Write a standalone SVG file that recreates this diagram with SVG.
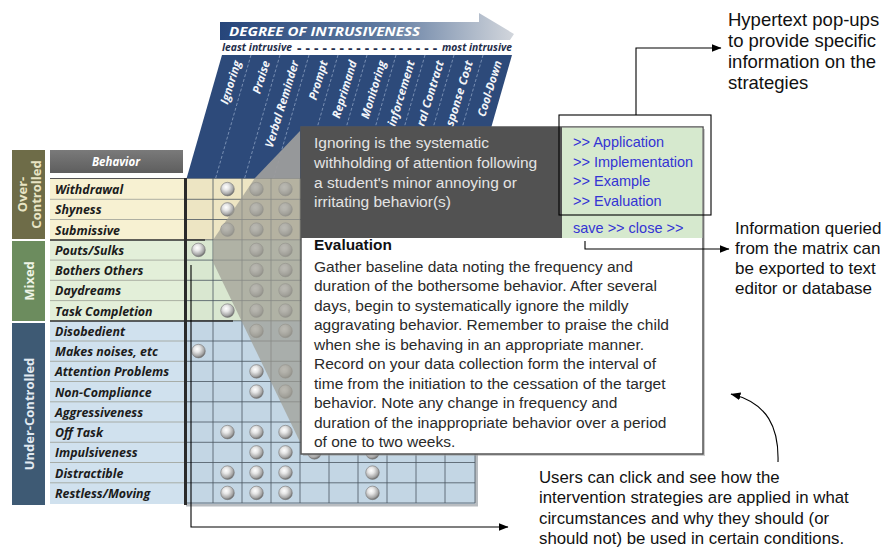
<svg xmlns="http://www.w3.org/2000/svg" xmlns:xlink="http://www.w3.org/1999/xlink" width="884" height="548" viewBox="0 0 884 548">
<defs>
<style>
.mx{font-family:"Open Sans","DejaVu Sans",sans-serif;font-weight:bold;font-style:italic}
.col{font-size:11.5px;fill:#f2f4f8}
.beh{font-size:12.4px;fill:#1c1c1c}
.grp{font-family:"Open Sans","DejaVu Sans",sans-serif;font-weight:bold;font-size:13px}
.ar{font-family:"Liberation Sans",Arial,sans-serif}
.pd{font-size:15.5px;fill:#e4e4e4}
.lk{font-size:14.5px;fill:#3434d4}
.bd{font-size:15.5px;fill:#2a2a2a}
.an{fill:#111}
.gl{stroke:#4a5560;stroke-width:0.8;fill:none}
.ll{stroke:#9c9f96;stroke-width:0.8;fill:none}
.cn{stroke:#000;stroke-width:1.1;fill:none}
</style>
<linearGradient id="ban" x1="0" y1="0" x2="1" y2="0">
<stop offset="0" stop-color="#26457a"/>
<stop offset="0.55" stop-color="#5f7aa0"/>
<stop offset="1" stop-color="#d2d6dc"/>
</linearGradient>
<linearGradient id="bhd" x1="0" y1="0" x2="0" y2="1">
<stop offset="0" stop-color="#7a7a7a"/>
<stop offset="1" stop-color="#5e5e5e"/>
</linearGradient>
<radialGradient id="sph" cx="0.4" cy="0.35" r="0.65">
<stop offset="0" stop-color="#ffffff"/>
<stop offset="0.35" stop-color="#e6e6e6"/>
<stop offset="0.8" stop-color="#a4a4a4"/>
<stop offset="1" stop-color="#6e6e6e"/>
</radialGradient>
<circle id="ball" cx="0" cy="0" r="6.8" fill="url(#sph)" stroke="#7a7a7a" stroke-width="0.6"/>
<marker id="ah" markerWidth="10" markerHeight="8" refX="9.5" refY="4" orient="auto" markerUnits="userSpaceOnUse">
<path d="M0,0 L10,4 L0,8 z" fill="#000"/>
</marker>
</defs>
<rect width="884" height="548" fill="#fff"/>

<g id="header">
<polygon points="220,22 479,22 479,13 514,34 510,40 220,40" fill="url(#ban)"/>
<text class="mx" x="229" y="36" font-size="12" fill="#fff" textLength="191" lengthAdjust="spacingAndGlyphs">DEGREE OF INTRUSIVENESS</text>
<g class="mx" fill="#1f2d4a">
<text x="222" y="51" font-size="10" textLength="70" lengthAdjust="spacingAndGlyphs">least intrusive</text>
<text x="297" y="50.5" font-size="7.5" textLength="140" lengthAdjust="spacing">= = = = = = = = = = = = = = = = =</text>
<text x="442" y="51" font-size="10" textLength="70" lengthAdjust="spacingAndGlyphs">most intrusive</text>
</g>
<polygon points="222,55 512,55 476.7,178 186.7,178" fill="#2d4a7a"/>
<g stroke="#8aa0c0" stroke-width="0.8" stroke-dasharray="3,2">
<line x1="251" y1="55" x2="215.7" y2="178"/>
<line x1="280" y1="55" x2="244.7" y2="178"/>
<line x1="309" y1="55" x2="273.7" y2="178"/>
<line x1="338" y1="55" x2="302.7" y2="178"/>
<line x1="367" y1="55" x2="331.7" y2="178"/>
<line x1="396" y1="55" x2="360.7" y2="178"/>
<line x1="425" y1="55" x2="389.7" y2="178"/>
<line x1="454" y1="55" x2="418.7" y2="178"/>
<line x1="483" y1="55" x2="447.7" y2="178"/>
</g>
<g class="mx col" text-anchor="end">
<text transform="translate(241,62) rotate(-73)">Ignoring</text>
<text transform="translate(270,62) rotate(-73)">Praise</text>
<text transform="translate(299,62) rotate(-73)">Verbal Reminder</text>
<text transform="translate(328,62) rotate(-73)">Prompt</text>
<text transform="translate(357,62) rotate(-73)">Reprimand</text>
<text transform="translate(386,62) rotate(-73)">Monitoring</text>
<text transform="translate(415,62) rotate(-73)" textLength="68" lengthAdjust="spacingAndGlyphs">inforcement</text>
<text transform="translate(444,62) rotate(-73)" textLength="68" lengthAdjust="spacingAndGlyphs">ral Contract</text>
<text transform="translate(473,62) rotate(-73)" textLength="68" lengthAdjust="spacingAndGlyphs">sponse Cost</text>
<text transform="translate(502,62) rotate(-73)">Cool-Down</text>
</g>
</g>

<g id="matrix">
<rect x="50" y="150" width="133" height="23" fill="url(#bhd)"/>
<text class="mx" x="116" y="165.5" font-size="11.5" fill="#fff" text-anchor="middle" font-style="normal">Behavior</text>
<g id="grp-over">
<rect x="12" y="150" width="33" height="89" fill="#6e6c48"/>
<text class="grp" fill="#e8e4c4" text-anchor="middle" transform="translate(27,194.5) rotate(-90)">Over-</text>
<text class="grp" fill="#e8e4c4" text-anchor="middle" transform="translate(41,194.5) rotate(-90)">Controlled</text>
</g>
<g id="grp-mixed">
<rect x="12" y="241" width="33" height="80" fill="#6c8c5e"/>
<text class="grp" fill="#eef4e6" text-anchor="middle" transform="translate(33.5,281) rotate(-90)">Mixed</text>
</g>
<g id="grp-under">
<rect x="12" y="323" width="33" height="182" fill="#3e5a74"/>
<text class="grp" fill="#e2eaf2" text-anchor="middle" font-size="13.5" transform="translate(33.5,414) rotate(-90)">Under-Controlled</text>
</g>
<rect x="50" y="179" width="134" height="61" fill="#f7f1d2"/>
<rect x="50" y="240" width="134" height="81" fill="#e3efd9"/>
<rect x="50" y="321" width="134" height="183" fill="#d0e1ee"/>
<rect x="184" y="179" width="291" height="61" fill="#ede5c3"/>
<rect x="184" y="240" width="291" height="81" fill="#d9e7d0"/>
<rect x="184" y="321" width="291" height="183" fill="#c3d6e4"/>
<rect x="475" y="181" width="3" height="325" fill="#b8bcc0"/>
<rect x="186" y="504" width="292" height="2.5" fill="#b8bcc0"/>
<g class="ll">
<path d="M50,199.3H184M50,219.5H184M50,260.1H184M50,280.3H184M50,300.6H184M50,341H184M50,361.3H184M50,381.5H184M50,401.8H184M50,422H184M50,442.3H184M50,462.5H184M50,482.8H184"/>
</g>
<g class="gl">
<path d="M184,178.5H475M184,199.3H475M184,219.5H475M184,239.8H475M184,260.1H475M184,280.3H475M184,300.6H475M184,320.8H475M184,341H475M184,361.3H475M184,381.5H475M184,401.8H475M184,422H475M184,442.3H475M184,462.5H475M184,482.8H475M184,503H475"/>
<path d="M213,178V503M242,178V503M271,178V503M300,178V503M329,178V503M358,178V503M387,178V503M416,178V503M445,178V503M475,178V503"/>
</g>
<line x1="50" y1="178.5" x2="184" y2="178.5" stroke="#555" stroke-width="1"/>
<line x1="50" y1="240" x2="205" y2="240" stroke="#2e2e2e" stroke-width="1.6"/>
<line x1="50" y1="321" x2="233" y2="321" stroke="#2e2e2e" stroke-width="1.6"/>
<line x1="185.5" y1="178" x2="185.5" y2="505" stroke="#2a2a2a" stroke-width="3"/>
<g class="mx beh">
<text x="55" y="194">Withdrawal</text>
<text x="55" y="214.3">Shyness</text>
<text x="55" y="234.5">Submissive</text>
<text x="55" y="254.8">Pouts/Sulks</text>
<text x="55" y="275">Bothers Others</text>
<text x="55" y="295.3">Daydreams</text>
<text x="55" y="315.5">Task Completion</text>
<text x="55" y="335.8">Disobedient</text>
<text x="55" y="356">Makes noises, etc</text>
<text x="55" y="376.3">Attention Problems</text>
<text x="55" y="396.5">Non-Compliance</text>
<text x="55" y="416.8">Aggressiveness</text>
<text x="55" y="437">Off Task</text>
<text x="55" y="457.3">Impulsiveness</text>
<text x="55" y="477.5">Distractible</text>
<text x="55" y="497.8">Restless/Moving</text>
</g>
<g id="balls">
<use href="#ball" x="227.5" y="189.1"/><use href="#ball" x="256.5" y="189.1"/><use href="#ball" x="285.5" y="189.1"/>
<use href="#ball" x="227.5" y="209.4"/><use href="#ball" x="256.5" y="209.4"/><use href="#ball" x="285.5" y="209.4"/>
<use href="#ball" x="227.5" y="229.6"/><use href="#ball" x="256.5" y="229.6"/><use href="#ball" x="285.5" y="229.6"/>
<use href="#ball" x="198.5" y="249.9"/><use href="#ball" x="256.5" y="249.9"/><use href="#ball" x="285.5" y="249.9"/>
<use href="#ball" x="256.5" y="270.1"/><use href="#ball" x="285.5" y="270.1"/>
<use href="#ball" x="256.5" y="290.4"/><use href="#ball" x="285.5" y="290.4"/>
<use href="#ball" x="227.5" y="310.6"/><use href="#ball" x="256.5" y="310.6"/><use href="#ball" x="285.5" y="310.6"/>
<use href="#ball" x="256.5" y="330.9"/><use href="#ball" x="285.5" y="330.9"/>
<use href="#ball" x="198.5" y="351.1"/>
<use href="#ball" x="256.5" y="371.4"/><use href="#ball" x="285.5" y="371.4"/>
<use href="#ball" x="256.5" y="391.6"/><use href="#ball" x="285.5" y="391.6"/>
<use href="#ball" x="227.5" y="432.1"/><use href="#ball" x="256.5" y="432.1"/><use href="#ball" x="285.5" y="432.1"/>
<use href="#ball" x="256.5" y="452.4"/><use href="#ball" x="285.5" y="452.4"/><use href="#ball" x="314.5" y="452.4"/><use href="#ball" x="372.5" y="452.4"/>
<use href="#ball" x="227.5" y="472.6"/><use href="#ball" x="256.5" y="472.6"/><use href="#ball" x="285.5" y="472.6"/><use href="#ball" x="372.5" y="472.6"/>
<use href="#ball" x="227.5" y="492.9"/><use href="#ball" x="256.5" y="492.9"/><use href="#ball" x="285.5" y="492.9"/><use href="#ball" x="372.5" y="492.9"/>
</g>
</g>

<g id="overlay">
<polygon points="300,131 255,178 300,178" fill="#9c9c9c" fill-opacity="0.95"/>
<polygon points="255,178 300,178 300,442 213,262 213,240" fill="#a09e94" fill-opacity="0.72"/>
</g>

<g id="popup">
<rect x="303" y="129" width="402" height="327" fill="#9a9a9a" opacity="0.5"/>
<rect x="301" y="127" width="402" height="327" fill="#fff" stroke="#555" stroke-width="1.5"/>
<rect x="301" y="127" width="261" height="111" fill="#525252"/>
<rect x="562" y="127.7" width="140.3" height="110.3" fill="#d6e9ce"/>
<g class="ar pd">
<text x="314" y="148">Ignoring is the systematic</text>
<text x="314" y="168">withholding of attention following</text>
<text x="314" y="188">a student's minor annoying or</text>
<text x="314" y="207">irritating behavior(s)</text>
</g>
<g class="ar lk">
<text x="573" y="147">&gt;&gt; Application</text>
<text x="573" y="167">&gt;&gt; Implementation</text>
<text x="573" y="186">&gt;&gt; Example</text>
<text x="573" y="206">&gt;&gt; Evaluation</text>
<text x="573" y="233">save &gt;&gt; close &gt;&gt;</text>
</g>
<text class="ar" x="314" y="250" font-size="15.4" font-weight="bold" fill="#111">Evaluation</text>
<g class="ar bd" xml:space="preserve">
<text x="314" y="271.5">Gather baseline data noting the frequency and</text>
<text x="314" y="291">duration of the bothersome behavior.  After several</text>
<text x="314" y="310.5">days, begin to systematically ignore the mildly</text>
<text x="314" y="330">aggravating behavior.  Remember to praise the child</text>
<text x="314" y="349.5">when she is behaving in an appropriate manner.</text>
<text x="314" y="369">Record on your data collection form the interval of</text>
<text x="314" y="388.5">time from the initiation to the cessation of the target</text>
<text x="314" y="408">behavior.  Note any change in frequency and</text>
<text x="314" y="427.5">duration of the inappropriate behavior over a period</text>
<text x="314" y="447">of one to two weeks.</text>
</g>
</g>

<g id="note-hypertext" class="ar an" font-size="18.5">
<text x="728" y="26">Hypertext pop-ups</text>
<text x="728" y="47">to provide specific</text>
<text x="728" y="68">information on the</text>
<text x="728" y="89">strategies</text>
</g>
<g id="note-export" class="ar an" font-size="17">
<text x="735" y="234">Information queried</text>
<text x="735" y="254">from the matrix can</text>
<text x="735" y="274">be exported to text</text>
<text x="735" y="294">editor or database</text>
</g>
<g id="note-users" class="ar an" font-size="16.8">
<text x="539" y="483">Users can click and see how the</text>
<text x="539" y="503.3">intervention strategies are applied in what</text>
<text x="539" y="523.6">circumstances and why they should (or</text>
<text x="539" y="543.8">should not) be used in certain conditions.</text>
</g>

<g id="connectors">
<rect x="559" y="115" width="152" height="100" class="cn"/>
<polyline points="636,115 636,48 721,48" class="cn" marker-end="url(#ah)"/>
<polyline points="585,241 585,249 729,249" class="cn" marker-end="url(#ah)"/>
<polyline points="191,265 191,527 508,527" class="cn" marker-end="url(#ah)"/>
<path d="M778,462 C779,428 768,403 731,394" class="cn" marker-end="url(#ah)"/>
</g>
</svg>
